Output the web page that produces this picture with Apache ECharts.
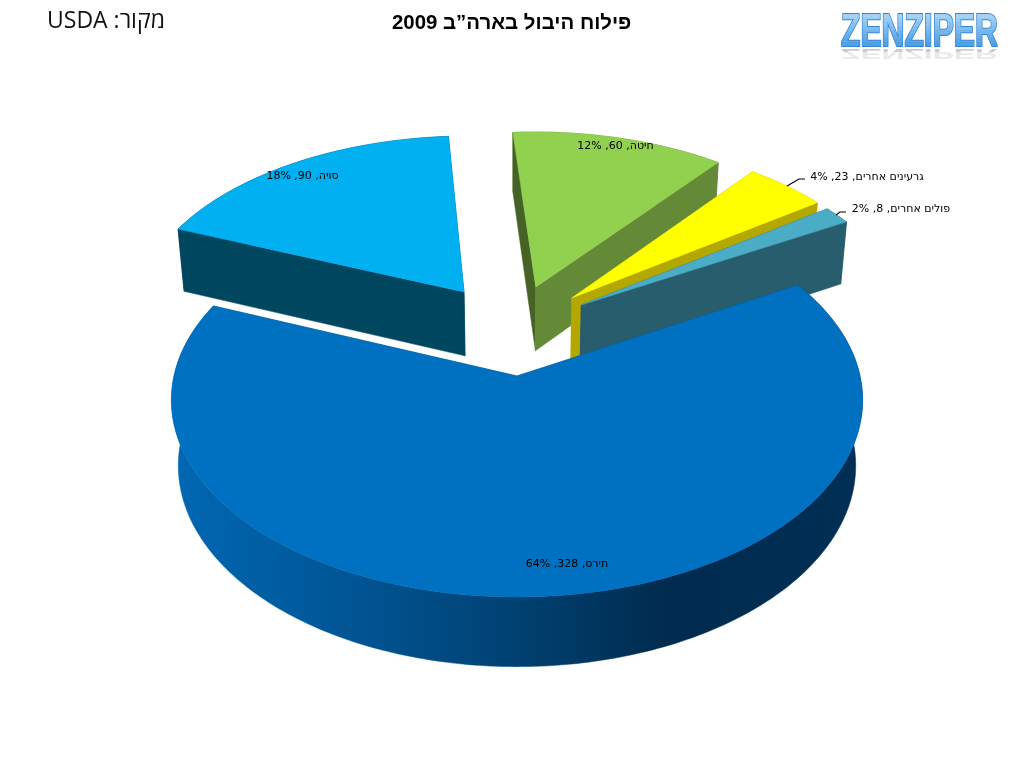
<!DOCTYPE html>
<html dir="rtl">
<head>
<meta charset="utf-8">
<style>html,body{margin:0;padding:0;background:#fff}#c{width:1024px;height:768px}</style>
<script src="https://cdn.jsdelivr.net/npm/echarts@6/dist/echarts.min.js"></script>
</head>
<body>
<div id="c"></div>
<script>
// ---- values (clockwise order) ----
const categories = ['סויה', 'חיטה', 'גרעינים אחרים', 'פולים אחרים', 'תירס'];
const values = [90, 60, 23, 8, 328];
const percents = [18, 12, 4, 2, 64];
const titleText = 'פילוח היבול בארה”ב 2009';
const sourceText = 'מקור: USDA';
const logoText = 'ZENZIPER';

// ---- style / projection settings ----
const topColors = ['#00B0F0', '#92D050', '#FFFF00', '#4BACC6', '#0070C0'];
const sideColors = ['#00465F', '#658A37', '#B3A700', '#285D6E', '#004A80'];
const leftSideColors = ['#00465F', '#466326', '#B3A700', '#285D6E', '#004A80'];
const shifts = [[-0.163, 0.457], [0.058, 0.486], [0.168, 0.423], [0.196, 0.383], [0, 0]];
const labelAt = [[302.5, 176], [615.5, 146.5], [867, 177], [901, 209], [567, 564]];
const leaders = [null, null, [[787, 186], [799, 179], [805, 179]], [[836, 215], [840, 212], [846, 212]], null];
const START_ANGLE = 157.8;
const P = { cx: 517, cy: 376, A: 343, B: 194, k: 0.122, m: 0.02, D: 67 };
const logoBands = ['#A4D2F5', '#98CBF3', '#8CC4F1', '#80BCEE', '#74B5EC', '#68ADE9', '#5CA6E7', '#50A0E4'];

const total = values.reduce((a, b) => a + b, 0);

function project(x, y, z) {
  const w = 1 + P.k * y + P.m * z;
  return [P.cx + P.A * x / w, P.cy + (-P.B * y + P.D * z) / w];
}
function rimPoint(i, deg, z) {
  const t = deg * Math.PI / 180;
  return project(shifts[i][0] + Math.cos(t), shifts[i][1] + Math.sin(t), z);
}

function renderItem(params, api) {
  const i = params.dataIndex;
  let before = 0;
  for (let j = 0; j < i; j++) before += values[j];
  const a0 = START_ANGLE - before / total * 360;
  const a1 = a0 - api.value(1) / total * 360;
  const topArc = [], botArc = [];
  const n = Math.ceil(a0 - a1);
  for (let s = 0; s <= n; s++) {
    const d = a0 + (a1 - a0) * s / n;
    topArc.push(rimPoint(i, d, 0));
    botArc.push(rimPoint(i, d, 1));
  }
  const apexTop = project(shifts[i][0], shifts[i][1], 0);
  const apexBot = project(shifts[i][0], shifts[i][1], 1);
  const last = topArc.length - 1;
  const poly = (pts, fill) => ({
    type: 'polygon', shape: { points: pts },
    style: { fill: fill, stroke: fill, lineWidth: 0.5 }, silent: true
  });
  const rimFill = i === 4
    ? new echarts.graphic.LinearGradient(0, 0, 1, 0, [
        { offset: 0, color: '#0068B4' },
        { offset: 0.3, color: '#00528F' },
        { offset: 0.52, color: '#003F6E' },
        { offset: 0.72, color: '#002B4E' },
        { offset: 1, color: '#002F55' }
      ])
    : sideColors[i];
  const children = [
    poly(topArc.concat(botArc.slice().reverse()), rimFill),
    // start edge of the slice (counter-clockwise end) and its end edge
    poly([topArc[0], botArc[0], apexBot, apexTop], leftSideColors[i]),
    poly([topArc[last], botArc[last], apexBot, apexTop], sideColors[i]),
    poly([apexTop].concat(topArc), topColors[i])
  ];
  if (leaders[i]) {
    children.push({
      type: 'polyline', shape: { points: leaders[i] },
      style: { fill: null, stroke: '#000', lineWidth: 1.1 }, silent: true
    });
  }
  return { type: 'group', children: children };
}

function renderLabel(params, api) {
  const i = params.dataIndex;
  return {
    type: 'text', silent: true,
    x: labelAt[i][0], y: labelAt[i][1],
    style: {
      text: categories[i] + ', ' + values[i] + ', ' + percents[i] + '%',
      font: '11px "DejaVu Sans"', fill: '#000',
      textAlign: 'center', textVerticalAlign: 'middle'
    }
  };
}

function renderLogo() {
  const font = 'bold 46px "Liberation Sans"';
  const base = (y, sy, st) => ({
    type: 'text', x: 841, y: y, scaleX: 0.69, scaleY: sy, silent: true,
    style: Object.assign({ text: logoText, font: font, textVerticalAlign: 'bottom', textAlign: 'left' }, st)
  });
  const clip = (top, h, child) => ({
    type: 'group',
    clipPath: { type: 'rect', shape: { x: 830, y: top, width: 180, height: h } },
    children: [child]
  });
  const children = [];
  // faded mirror image under the word
  children.push(clip(47, 5, base(45.5, -0.3, { fill: 'rgba(120,120,120,0.38)' })));
  children.push(clip(52, 8, base(45.5, -0.3, { fill: 'rgba(120,120,120,0.16)' })));
  // outline, then the word in bands from light to darker
  children.push(base(56, 1, { fill: '#4C9DE6', stroke: '#3584D0', lineWidth: 2.2 }));
  logoBands.forEach((c, k) => {
    children.push(clip(14 + k * 4, 4, base(56, 1, { fill: c })));
  });
  children.push(clip(46, 4, base(56, 1, { fill: '#4C9DE6' })));
  return { type: 'group', children: children };
}

const chart = echarts.init(document.getElementById('c'), null, { renderer: 'canvas' });
const rows = categories.map((c, i) => [c, values[i], percents[i]]);
chart.setOption({
  animation: false,
  backgroundColor: '#fff',
  title: [
    { text: titleText, left: 387, top: 8, textStyle: { fontFamily: '"Liberation Sans"', fontSize: 20.4, fontWeight: 'bold', color: '#000' } },
    { text: sourceText, left: 42, top: 5, textStyle: { fontFamily: '"Open Sans","Liberation Sans"', fontSize: 23, fontWeight: 'normal', color: '#111' } }
  ],
  series: [
    { type: 'custom', coordinateSystem: 'none', data: rows, renderItem: renderItem, encode: { value: 1 }, silent: true, z: 2 },
    { type: 'custom', coordinateSystem: 'none', data: rows, renderItem: renderLabel, silent: true, z: 3 },
    { type: 'custom', coordinateSystem: 'none', data: [[logoText]], renderItem: renderLogo, silent: true, z: 4 }
  ]
});
</script>
</body>
</html>
